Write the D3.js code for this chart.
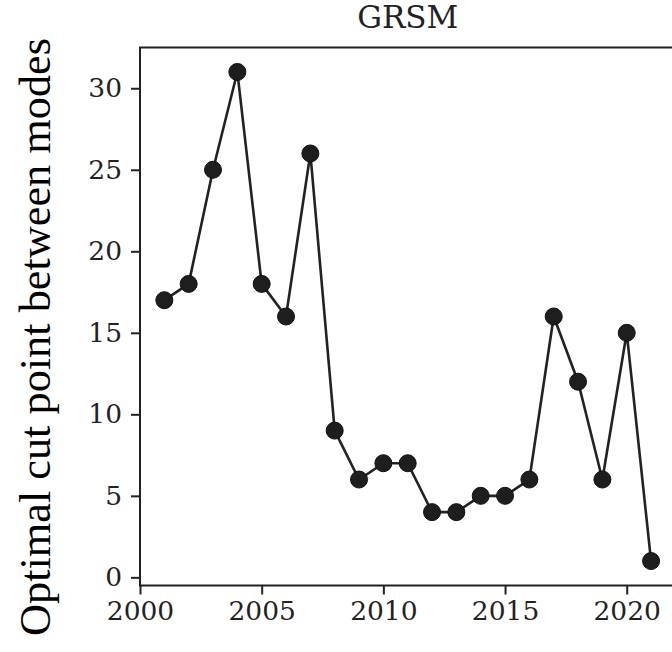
<!DOCTYPE html>
<html>
<head>
<meta charset="utf-8">
<script src="https://cdn.jsdelivr.net/npm/d3@7"></script>
<style>
  html, body { margin: 0; padding: 0; background: #fff; }
  svg { display: block; }
</style>
</head>
<body>
<svg id="chart" width="672" height="652"></svg>
<script>
// Yearly optimal cut point between modes, GRSM
const years = [2001, 2002, 2003, 2004, 2005, 2006, 2007, 2008, 2009, 2010, 2011,
               2012, 2013, 2014, 2015, 2016, 2017, 2018, 2019, 2020, 2021];
const cutPoints = [17, 18, 25, 31, 18, 16, 26, 9, 6, 7, 7,
                   4, 4, 5, 5, 6, 16, 12, 6, 15, 1];
const xTicks = [2000, 2005, 2010, 2015, 2020];
const yTicks = [0, 5, 10, 15, 20, 25, 30];
const chartTitle = "GRSM";
const yLabel = "Optimal cut point between modes";

const svg = d3.select("#chart");
const plotLeft = 140, plotRight = 675.4, plotTop = 47.5, plotBottom = 585.5;

const x = d3.scaleLinear().domain([2000, 2022]).range([plotLeft, plotRight]);
const y = d3.scaleLinear().domain([-0.5, 32.5]).range([plotBottom, plotTop]);

const tickFont = "'DejaVu Serif', serif";
const ink = "#222";

// Frame
svg.append("rect")
  .attr("x", plotLeft).attr("y", plotTop)
  .attr("width", plotRight - plotLeft).attr("height", plotBottom - plotTop)
  .attr("fill", "none").attr("stroke", ink).attr("stroke-width", 2);

// X axis
const xAxis = svg.append("g")
  .attr("transform", `translate(0,${plotBottom})`)
  .call(d3.axisBottom(x).tickValues(xTicks).tickFormat(d3.format("d"))
        .tickSize(9).tickPadding(7));
xAxis.select(".domain").remove();
xAxis.selectAll(".tick line").attr("stroke", ink).attr("stroke-width", 2);
xAxis.selectAll(".tick text")
  .attr("font-family", tickFont).attr("font-size", 26.5).attr("fill", ink);

// Y axis
const yAxis = svg.append("g")
  .attr("transform", `translate(${plotLeft},0)`)
  .call(d3.axisLeft(y).tickValues(yTicks).tickFormat(d3.format("d"))
        .tickSize(9).tickPadding(9));
yAxis.select(".domain").remove();
yAxis.selectAll(".tick line").attr("stroke", ink).attr("stroke-width", 2);
yAxis.selectAll(".tick text")
  .attr("font-family", tickFont).attr("font-size", 26.5).attr("fill", ink);

// Title
svg.append("text")
  .attr("x", (plotLeft + plotRight) / 2).attr("y", 28)
  .attr("text-anchor", "middle")
  .attr("font-family", tickFont).attr("font-size", 31).attr("fill", ink)
  .text(chartTitle);

// Y label
svg.append("text")
  .attr("transform", `translate(50,337) rotate(-90)`)
  .attr("text-anchor", "middle")
  .attr("font-family", "'Liberation Serif', 'Times New Roman', serif")
  .attr("font-size", 44.3).attr("fill", "#000")
  .text(yLabel);

// Series line and markers
const pts = years.map((yr, i) => [yr, cutPoints[i]]);
svg.append("path")
  .datum(pts)
  .attr("fill", "none").attr("stroke", ink).attr("stroke-width", 2.6)
  .attr("d", d3.line().x(d => x(d[0])).y(d => y(d[1])));

svg.append("g").selectAll("circle")
  .data(pts).enter().append("circle")
  .attr("cx", d => x(d[0])).attr("cy", d => y(d[1]))
  .attr("r", 8.5)
  .attr("fill", "#1e1e1e").attr("stroke", "#111").attr("stroke-width", 1);
</script>
</body>
</html>
